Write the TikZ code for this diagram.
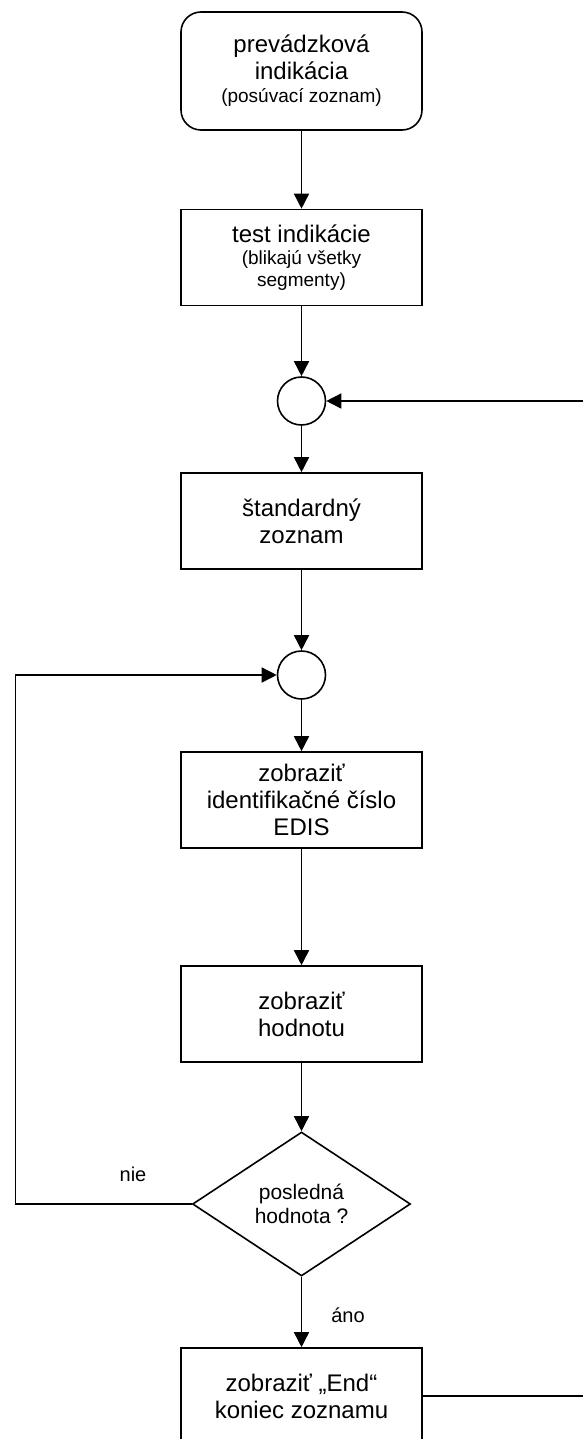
\documentclass[tikz,border=0pt]{standalone}
\usepackage{fontspec}
\setmainfont{Liberation Sans}
\usetikzlibrary{shapes.geometric,arrows.meta}
\tikzset{
  base/.style={draw=black, line width=1.6pt, align=center, inner sep=0pt, fill=white},
  procbox/.style={base, rectangle, minimum width=241pt, minimum height=96pt, font=\fontsize{24}{27}\selectfont},
  startbox/.style={procbox, rounded corners=20pt, minimum height=118pt},
  joint/.style={base, circle, minimum size=48pt},
  decision/.style={base, diamond, minimum width=218pt, minimum height=144pt, font=\fontsize{21}{24}\selectfont},
  flow/.style={line width=1.6pt, -{Triangle[length=15pt,width=15pt]}},
  plain/.style={line width=1.6pt},
  lbl/.style={font=\fontsize{20}{24}\selectfont, inner sep=0pt}
}
\begin{document}
\begin{tikzpicture}[x=1pt,y=-1pt]
\useasboundingbox (0,0) rectangle (582,1439);
\node[startbox] (start) at (301.5,71) {prevádzková\\indikácia\\[-4pt]{\fontsize{19}{23}\selectfont (posúvací zoznam)}};
\node[procbox] (test) at (301.5,257.5) {test indikácie\\[-5pt]{\fontsize{19}{22}\selectfont (blikajú všetky}\\[-5pt]{\fontsize{19}{22}\selectfont segmenty)}};
\node[joint] (c1) at (301.5,401) {};
\node[procbox] (std) at (301.5,521) {štandardný\\zoznam};
\node[joint] (c2) at (301.5,675) {};
\node[procbox] (edis) at (301.5,800) {zobraziť\\identifikačné číslo\\EDIS};
\node[procbox] (hod) at (301.5,1014) {zobraziť\\hodnotu};
\node[decision] (dia) at (301.5,1204) {posledná\\hodnota ?};
\node[procbox] (end) at (301.5,1396) {zobraziť „End“\\koniec zoznamu};
\node[lbl] (nie) at (133,1174) {nie};
\node[lbl] (ano) at (348,1315) {áno};
\coordinate (rtop) at (583,401);
\coordinate (rbot) at (583,1396);
\coordinate (lb) at (15.5,1204);
\coordinate (lt) at (15.5,675);
\draw[flow] (start.south) -- (test.north);
\draw[flow] (test.south) -- (c1.north);
\draw[flow] (c1.south) -- (std.north);
\draw[flow] (std.south) -- (c2.north);
\draw[flow] (c2.south) -- (edis.north);
\draw[flow] (edis.south) -- (hod.north);
\draw[flow] (hod.south) -- (dia.north);
\draw[flow] (dia.south) -- (end.north);
\draw[flow] (rtop) -- (c1.east);
\draw[flow] (dia.west) -- (lb) -- (lt) -- (c2.west);
\draw[plain] (end.east) -- (rbot);
\end{tikzpicture}
\end{document}
